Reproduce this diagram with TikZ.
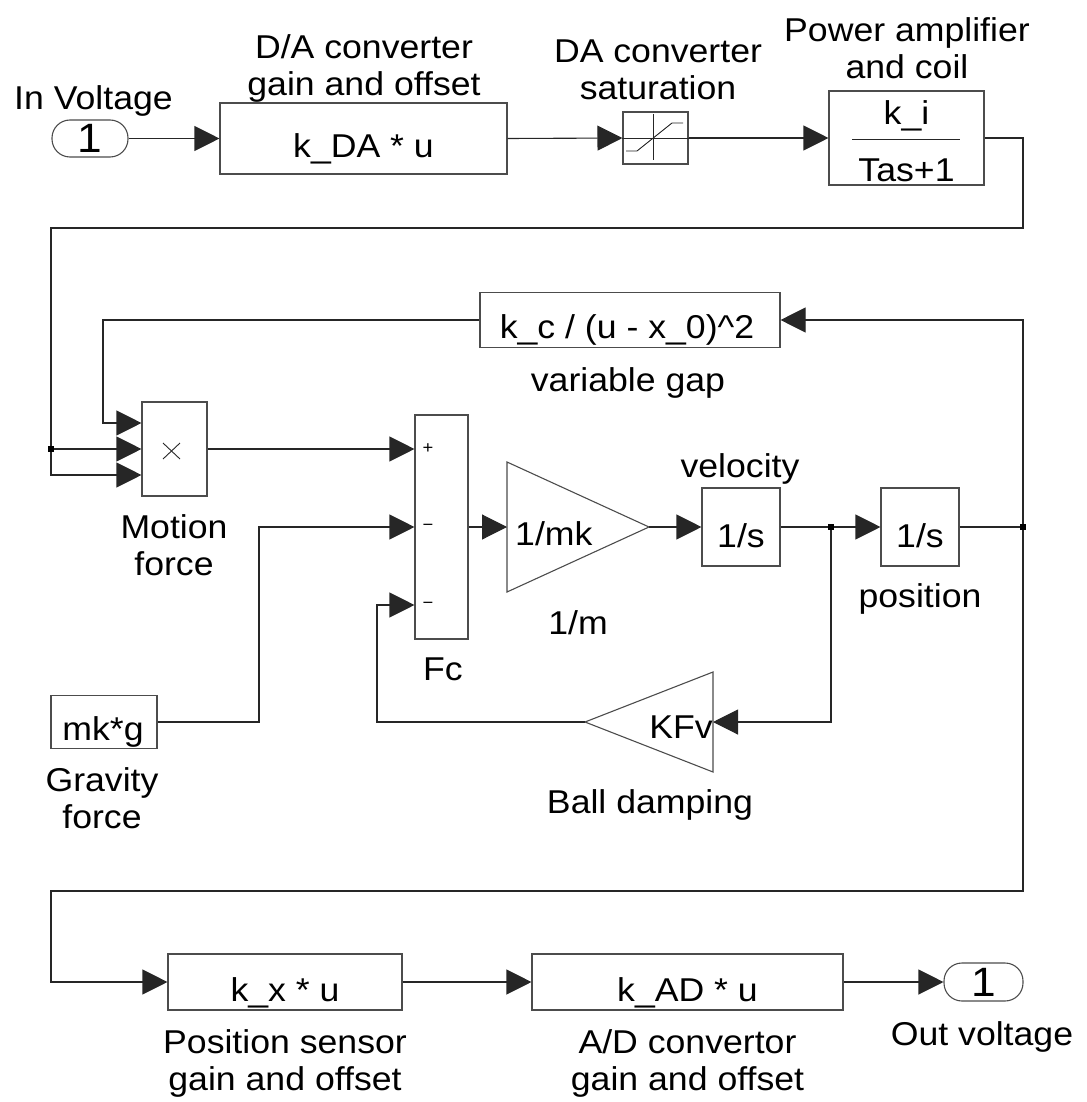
\documentclass[tikz,border=0pt]{standalone}
\usepackage{fontspec}
\setmainfont{Liberation Sans}[FakeStretch=1.08]
\usetikzlibrary{arrows.meta,calc}
\newcommand\twol[2]{\vtop{\halign{\hfil##\hfil\cr#1\cr#2\cr}}}
\begin{document}
\begin{tikzpicture}[x=1pt,y=-1pt,
  font=\fontsize{33}{37}\selectfont,
  box/.style={draw=black!70, line width=1.1pt, inner sep=0pt},
  hid/.style={inner sep=0pt, outer sep=0pt},
  outl/.style={draw=black!70, line width=1.1pt},
  sig/.style={draw=black!85, line width=1.1pt},
  arr/.style={sig, -{Triangle[length=25pt,width=25pt]}},
  lab/.style={inner sep=0pt, anchor=base},
  dot/.style={fill=black, inner sep=0pt, minimum size=6pt},
  sgn/.style={inner sep=0pt, font=\fontsize{17}{17}\selectfont},
  port/.style={box, rounded corners=18pt, font=\fontsize{41}{41}\selectfont},
]
\useasboundingbox (0,0) rectangle (1086,1102);

% ---------- blocks ----------
\node[port, minimum width=76pt, minimum height=37pt] (inport) at (90,138.5) {1};
\node[box, minimum width=287pt, minimum height=71pt] (da) at (363.5,138.5) {};
\node[box, minimum width=65pt, minimum height=52pt] (sat) at (655.5,138) {};
\node[box, minimum width=155pt, minimum height=94pt] (pa) at (906.5,138) {};
\node[box, minimum width=300pt, minimum height=55pt] (gap) at (630,320) {};
\node[box, minimum width=65pt, minimum height=94pt] (prod) at (174.5,449) {};
\node[box, minimum width=53pt, minimum height=224pt] (sum) at (441.5,527) {};
\node[hid, minimum width=142pt, minimum height=130pt] (gain) at (578,527) {};
\node[box, minimum width=78pt, minimum height=78pt] (vel) at (741,527) {};
\node[box, minimum width=78pt, minimum height=78pt] (pos) at (920,527) {};
\node[hid, minimum width=128pt, minimum height=100pt] (kfv) at (649,722) {};
\node[box, minimum width=106pt, minimum height=53pt] (grav) at (104,722) {};
\node[box, minimum width=234pt, minimum height=56pt] (ps) at (285,982) {};
\node[box, minimum width=311pt, minimum height=56pt] (ad) at (687.5,982) {};
\node[port, minimum width=79pt, minimum height=38pt] (outport) at (983.5,982) {1};

% triangles (gains)
\draw[outl] (gain.north west) -- (gain.east) -- (gain.south west) -- cycle;
\draw[outl] (kfv.north east) -- (kfv.west) -- (kfv.south east) -- cycle;

% saturation icon
\draw[sig, line width=0.9pt] (sat.west) -- (sat.east);
\draw[sig, line width=0.9pt] ($(sat.center)+(-2.5,-24)$) -- ($(sat.center)+(-2.5,22)$);
\draw[sig, line width=0.9pt] ($(sat.center)+(-29.5,13)$) -- ($(sat.center)+(-18.5,13)$)
   -- ($(sat.center)+(16.5,-15)$) -- ($(sat.center)+(27.5,-15)$);

% fraction bar
\draw[sig, line width=0.9pt] ($(pa.center)+(-54.5,1)$) -- ($(pa.center)+(53.5,1)$);

% product sign
\draw[sig, line width=0.9pt] ($(prod.center)+(-11.5,-6)$) -- ($(prod.center)+(5.5,10)$);
\draw[sig, line width=0.9pt] ($(prod.center)+(-11.5,10)$) -- ($(prod.center)+(5.5,-6)$);

% sum signs
\node[sgn] (sp1) at (428,449) {+};
\node[sgn] (sm2) at (428,527) {−};
\node[sgn] (sm3) at (428,605) {−};

% ---------- texts in blocks ----------
\node[lab] (tkda) at (363.5,158) {k\_DA * u};
\node[lab] (tki) at (906.5,125) {k\_i};
\node[lab] (ttas) at (906.5,182) {Tas+1};
\node[lab] (tkc) at (627,338) {k\_c / (u - x\_0)\textasciicircum 2};
\node[lab, anchor=base west] (tmk) at (515,545) {1/mk};
\node[lab] (tv1) at (741,547) {1/s};
\node[lab] (tv2) at (920,547) {1/s};
\node[lab, anchor=base east] (tkfv) at (713,738) {KFv};
\node[lab] (tmkg) at (103,740) {mk*g};
\node[lab] (tkx) at (285,1001) {k\_x * u};
\node[lab] (tkad) at (687.5,1001) {k\_AD * u};

% ---------- block names ----------
\node[lab] (tin) at (93.5,110) {In Voltage};
\node[lab] (tda) at (364,59) {\twol{D/A converter}{gain and offset}};
\node[lab] (tsat) at (658,63) {\twol{DA converter}{saturation}};
\node[lab] (tpa) at (907,42) {\twol{Power amplifier}{and coil}};
\node[lab] (tgap) at (628,391) {variable gap};
\node[lab] (tmot) at (174,538) {\twol{Motion}{force}};
\node[lab] (tfc) at (443,680) {Fc};
\node[lab] (tm) at (578,634) {1/m};
\node[lab] (tvel) at (740,477) {velocity};
\node[lab] (tpos) at (920,607) {position};
\node[lab] (tgrav) at (102,791) {\twol{Gravity}{force}};
\node[lab] (tbd) at (650,813) {Ball damping};
\node[lab] (tps) at (285,1053) {\twol{Position sensor}{gain and offset}};
\node[lab] (tad) at (687.5,1053) {\twol{A/D convertor}{gain and offset}};
\node[lab] (tout) at (982,1045) {Out voltage};

% ---------- junctions and corner points ----------
\node[dot] (j1) at (51,449) {};
\node[dot] (jv) at (831,527) {};
\node[dot] (jp) at (1023,527) {};
\coordinate (p1) at ($(prod.west)+(0,-26)$);
\coordinate (p3) at ($(prod.west)+(0,26)$);
\coordinate (s1) at ($(sum.west)+(0,-78)$);
\coordinate (s2) at (sum.west);
\coordinate (s3) at ($(sum.west)+(0,78)$);
\coordinate (c1) at (1023,228);
\coordinate (c4) at (103,423);
\coordinate (c5) at (259,722);
\coordinate (c6) at (377,722);
\coordinate (c8) at (51,891);

% ---------- connectors ----------
\draw[arr] (inport.east) -- (da.west);
\draw[arr] (da.east) -- (sat.west);
\draw[arr] (sat.east) -- (pa.west);
\draw[sig] (pa.east) -| (c1) -| (j1);
\draw[arr] (j1) -- (prod.west);
\draw[arr] (j1) |- (p3);
\draw[arr] (gap.west) -| (c4) -- (p1);
\draw[arr] (prod.east) -- (s1);
\draw[arr] (grav.east) -- (c5) |- (s2);
\draw[arr] (kfv.west) -- (c6) |- (s3);
\draw[arr] (sum.east) -- (gain.west);
\draw[arr] (gain.east) -- (vel.west);
\draw[sig] (vel.east) -- (jv);
\draw[arr] (jv) -- (pos.west);
\draw[arr] (jv) |- (kfv.east);
\draw[sig] (pos.east) -- (jp);
\draw[arr] (jp) |- (gap.east);
\draw[arr] (jp) |- (c8) |- (ps.west);
\draw[arr] (ps.east) -- (ad.west);
\draw[arr] (ad.east) -- (outport.west);
\end{tikzpicture}
\end{document}
